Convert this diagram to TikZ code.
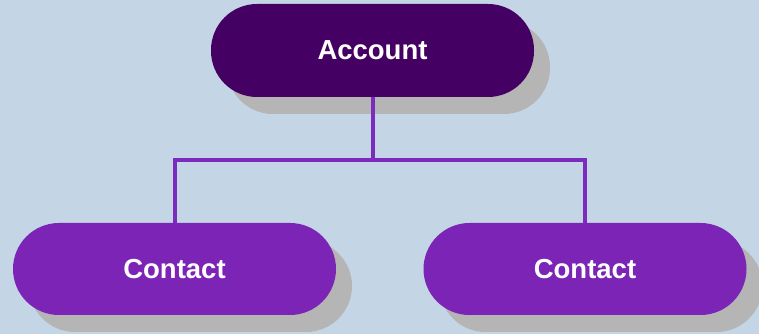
\documentclass[tikz,border=0pt]{standalone}
\usepackage{fontspec}
\setmainfont{Liberation Sans}
\usetikzlibrary{shadows}
\definecolor{bgblue}{HTML}{C4D6E6}
\definecolor{parentfill}{HTML}{440062}
\definecolor{childfill}{HTML}{7B24B6}
\definecolor{linkcol}{HTML}{7B2CBF}
\definecolor{shadowgray}{HTML}{B5B5B5}
\begin{document}
\begin{tikzpicture}[x=1pt,y=1pt,
  pill/.style={rectangle, rounded corners=46pt, minimum width=323pt,
    minimum height=92pt, inner sep=0pt, text=white,
    font=\fontsize{27.5}{30}\selectfont\bfseries,
    drop shadow={shadow xshift=16pt, shadow yshift=-17pt,
      fill=shadowgray, opacity=1}},
  parent/.style={pill, fill=parentfill, minimum height=93pt},
  child/.style={pill, fill=childfill},
  link/.style={draw=linkcol, line width=4pt, line join=miter}]
  \fill[bgblue] (0,0) rectangle (759,334);
  \useasboundingbox (0,0) rectangle (759,334);

  \node[parent] (acc) at (372.5,283.5) {Account};
  \node[child] (c1) at (174.5,65) {Contact};
  \node[child] (c2) at (585,65) {Contact};

  \coordinate (j) at (372.5,174);
  \draw[link] (acc.south) -- (j);
  \draw[link] (c1.north) |- (j) -| (c2.north);
\end{tikzpicture}
\end{document}
